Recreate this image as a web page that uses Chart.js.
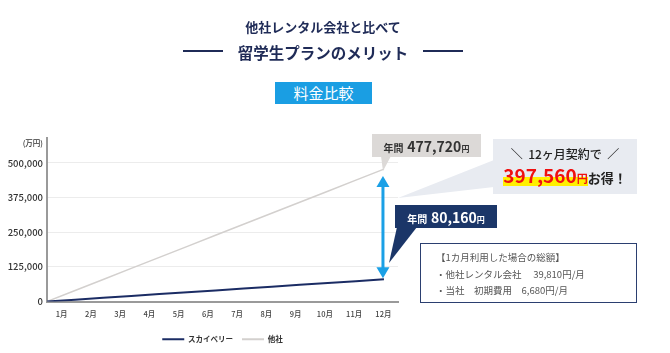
<!DOCTYPE html>
<html><head><meta charset="utf-8">
<script src="https://cdn.jsdelivr.net/npm/chart.js@4.4.1/dist/chart.umd.min.js"></script>
<style>
html,body{margin:0;padding:0;background:#fff;}
#wrap{position:relative;width:670px;height:353px;overflow:hidden;font-family:"Noto Sans CJK JP","Noto Sans",sans-serif;}
#c{position:absolute;left:0;top:0;}
.abs{position:absolute;white-space:nowrap;}
</style></head><body>
<div id="wrap">
<canvas id="c" width="670" height="353"></canvas>
<svg class="abs" style="left:0;top:0" width="670" height="353">
  <polygon points="381,156 391,156 383,171" fill="#dcd9d7"/>
  <polygon points="398,198 494,160 494,187" fill="#e8ebf1"/>
  <polygon points="397,227 417,227 389,263" fill="#1b3668"/>
</svg>
<div class="abs" style="left:0;width:646px;top:18px;text-align:center;font-size:13px;font-weight:700;color:#1f2b57;line-height:18px;">他社レンタル会社と比べて</div>
<div class="abs" style="left:0;width:646px;top:42px;text-align:center;font-size:15.5px;font-weight:700;color:#1f2b57;line-height:20px;">留学生プランのメリット</div>
<div class="abs" style="left:183px;top:50px;width:40px;height:1.5px;background:#1f2b57"></div>
<div class="abs" style="left:423px;top:50px;width:40px;height:1.5px;background:#1f2b57"></div>
<div class="abs" style="left:275px;top:82px;width:97px;height:22px;background:#1a9ee3;color:#fff;font-size:15px;line-height:22px;text-align:center;">料金比較</div>

<div class="abs" style="left:372px;top:134px;width:109px;height:23px;background:#dcd9d7;color:#333;text-align:center;line-height:23px;font-weight:700;">
  <span style="font-size:10px">年間</span> <span style="font-size:14px">477,720</span><span style="font-size:8px">円</span></div>

<div class="abs" style="left:395px;top:205px;width:102px;height:23px;background:#1b3668;color:#fff;text-align:center;line-height:23px;font-weight:700;">
  <span style="font-size:10px">年間</span> <span style="font-size:14px">80,160</span><span style="font-size:8px">円</span></div>

<div class="abs" style="left:493px;top:139px;width:144px;height:55px;background:#e8ebf1;text-align:center;color:#222;">
  <div style="position:absolute;left:0;width:144px;top:7px;font-size:12px;line-height:16px;font-weight:500;">＼&nbsp; 12ヶ月契約で&nbsp; ／</div>
  <div style="position:absolute;left:0;width:144px;top:24px;line-height:24px;font-weight:700;">
    <span style="color:#f01010;font-size:19px;background:linear-gradient(transparent 58%,#fff000 58%, #fff000 92%, transparent 92%);">397,560<span style="font-size:11px">円</span></span><span style="font-size:13px;color:#222">お得！</span>
  </div>
</div>

<div class="abs" style="left:420px;top:243px;width:217px;height:60px;box-sizing:border-box;border:1.5px solid #2b3f70;background:#fff;color:#555;font-size:9.5px;">
  <div style="position:absolute;left:15px;top:5px;line-height:16.5px;">
    <div>【1カ月利用した場合の総額】</div>
    <div>・他社レンタル会社　 39,810円/月</div>
    <div>・当社　初期費用　6,680円/月</div>
  </div>
</div>
</div>
<script>
const monthLabels = ['1月','2月','3月','4月','5月','6月','7月','8月','9月','10月','11月','12月'];
const monthIndex = [0,1,2,3,4,5,6,7,8,9,10,11,12];
const skyberry = [0,6680,13360,20040,26720,33400,40080,46760,53440,60120,66800,73480,80160];
const others   = [0,39810,79620,119430,159240,199050,238860,278670,318480,358290,398100,437910,477720];
const yTickValues = [0,125000,250000,375000,500000];
const unitTickValue = 570000;
const unitLabel = '(万円)';
const seriesNames = ['スカイベリー','他社'];

const FONT = '"Noto Sans CJK JP","Noto Sans",sans-serif';

const arrowPlugin = {
  id: 'diffArrow',
  afterDatasetsDraw(chart) {
    const xs = chart.scales.x, ys = chart.scales.y, ctx = chart.ctx;
    const x = xs.getPixelForValue(monthIndex[monthIndex.length-1]) - 1;
    const yTop = ys.getPixelForValue(others[others.length-1]) + 7;
    const yBot = ys.getPixelForValue(skyberry[skyberry.length-1]) - 1;
    const hh = 11, hw = 6.5;
    ctx.save();
    ctx.strokeStyle = '#1aa0e6'; ctx.fillStyle = '#1aa0e6'; ctx.lineWidth = 3;
    ctx.beginPath(); ctx.moveTo(x, yTop + hh - 1); ctx.lineTo(x, yBot - hh + 1); ctx.stroke();
    ctx.beginPath(); ctx.moveTo(x, yTop); ctx.lineTo(x - hw, yTop + hh); ctx.lineTo(x + hw, yTop + hh); ctx.closePath(); ctx.fill();
    ctx.beginPath(); ctx.moveTo(x, yBot); ctx.lineTo(x - hw, yBot - hh); ctx.lineTo(x + hw, yBot - hh); ctx.closePath(); ctx.fill();
    ctx.restore();
  }
};

new Chart(document.getElementById('c'), {
  type: 'line',
  data: {
    datasets: [
      { label: seriesNames[0], data: monthIndex.map((m,i)=>({x:m,y:skyberry[i]})), borderColor:'#1b2c64', backgroundColor:'#1b2c64', borderWidth:2, pointRadius:0, tension:0, xAxisID:'x' },
      { label: seriesNames[1], data: monthIndex.map((m,i)=>({x:m,y:others[i]})), borderColor:'#d3d0ce', backgroundColor:'#d3d0ce', borderWidth:1.5, pointRadius:0, tension:0, xAxisID:'x' }
    ]
  },
  options: {
    responsive: false,
    animation: false,
    layout: { padding: { left: 0, right: 272, top: 138, bottom: 0 } },
    scales: {
      x: { type:'linear', display:false, min:0, max:12.5 },
      xc: { type:'category', labels: monthLabels, position:'bottom', offset:true,
            grid:{ display:false, drawTicks:false },
            border:{ display:true, color:'#9a9a9a', width:2 },
            ticks:{ color:'#444', padding:8, font:{ family:FONT, size:7.5, weight:'500' }, maxRotation:0, autoSkip:false } },
      y: { min:0, max:590000,
           afterBuildTicks(scale){ scale.ticks = yTickValues.map(v=>({value:v})).concat([{value:unitTickValue}]); },
           afterFit(scale){ scale.width = 47; },
           grid:{ color:(c)=> c.tick && c.tick.value===unitTickValue ? 'rgba(0,0,0,0)' : '#ececec', drawTicks:false, lineWidth:1 },
           border:{ display:true, color:'#9a9a9a', width:2 },
           ticks:{ color:'#333', padding:4,
                   font:(c)=> (c.tick && c.tick.value===unitTickValue) ? {family:FONT,size:7.5,weight:'500'} : {family:FONT,size:9.5,weight:'500'},
                   callback:(v)=> v===unitTickValue ? unitLabel : v.toLocaleString('en-US') } }
    },
    plugins: {
      tooltip:{ enabled:false },
      legend:{ position:'bottom', fullSize:false,
        labels:{ color:'#333', boxWidth:22, boxHeight:2, padding:9, font:{ family:FONT, size:7.5, weight:'700' },
          generateLabels(chart){
            return Chart.defaults.plugins.legend.labels.generateLabels(chart).map(l=>Object.assign(l,{lineWidth:0}));
          } } }
    }
  },
  plugins:[arrowPlugin]
});
</script>
</body></html>
